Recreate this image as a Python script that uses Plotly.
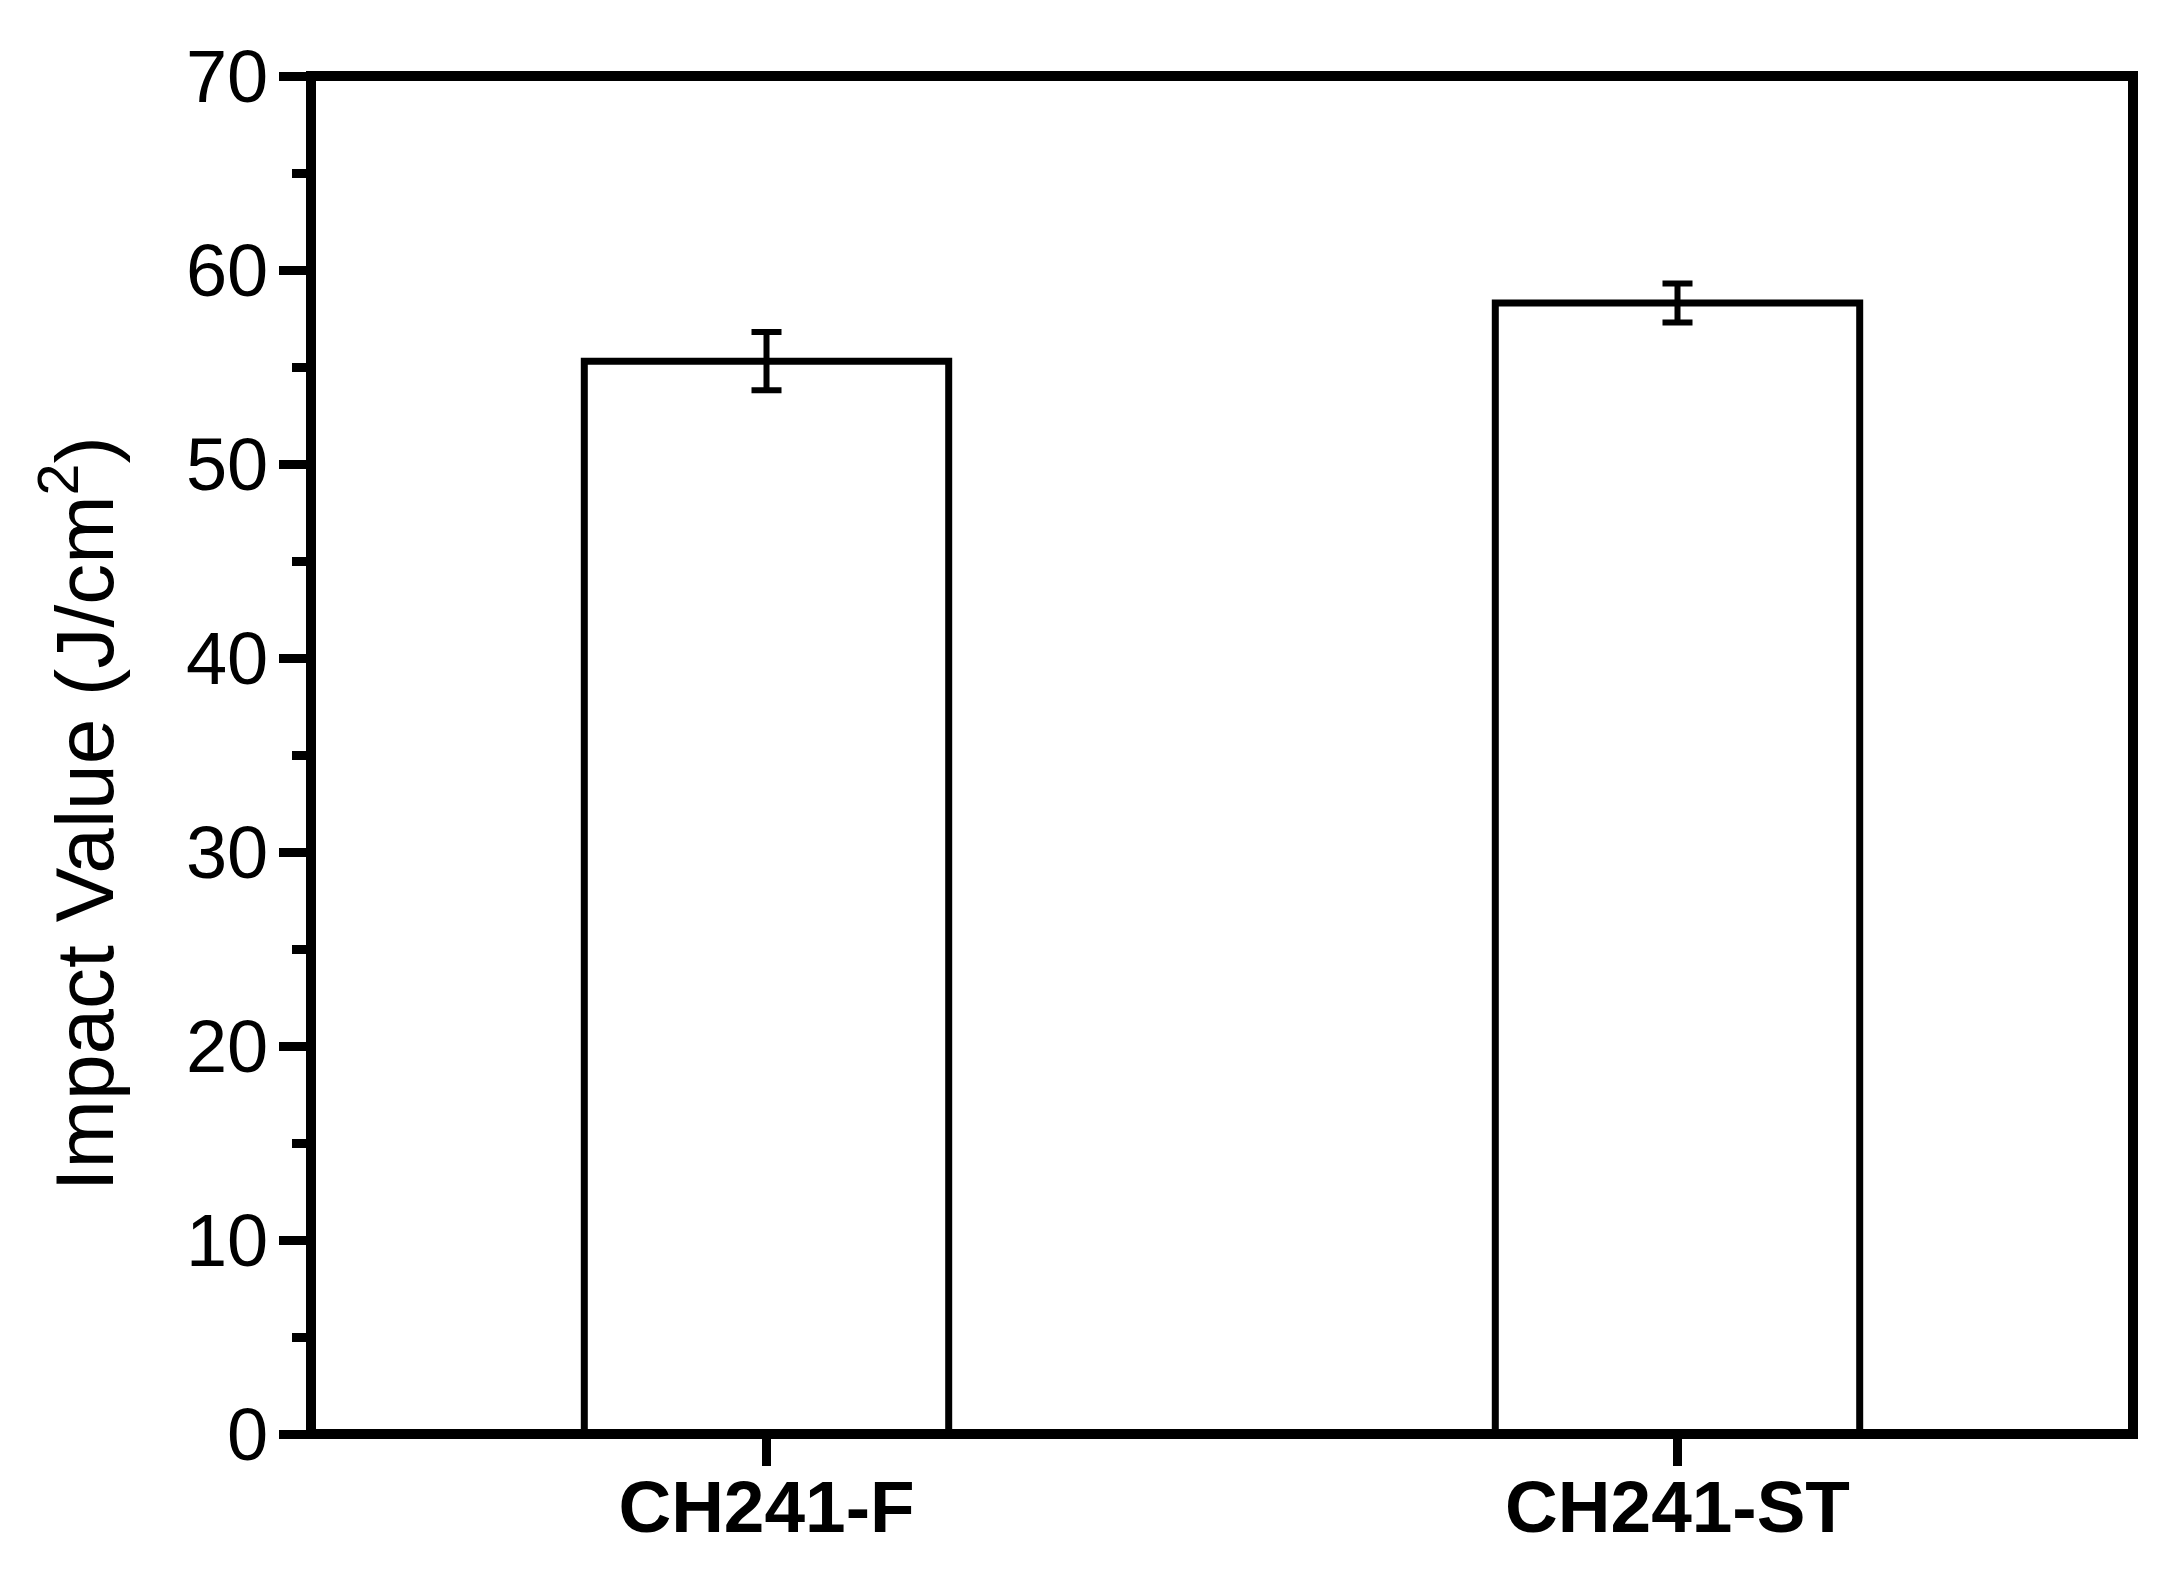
import plotly.graph_objects as go

# Data
samples = ["CH241-F", "CH241-ST"]
impact_values = [55.3, 58.3]
impact_errors = [1.5, 1.0]

FONT = "Arial, Liberation Sans, sans-serif"

fig = go.Figure()
fig.add_trace(
    go.Bar(
        x=samples,
        y=impact_values,
        width=0.4,
        marker=dict(color="white", line=dict(color="black", width=7)),
        error_y=dict(type="data", array=impact_errors, visible=True,
                     color="black", thickness=6, width=15),
        showlegend=False,
    )
)

# page body adds an 8px offset, so the figure is trimmed by that much
fig.update_layout(
    width=2169,
    height=1569,
    plot_bgcolor="white",
    paper_bgcolor="white",
    margin=dict(l=303, r=44, t=68, b=143),
    font=dict(family=FONT, color="black"),
)

# frame drawn centred on the plot edges, so 0 and 70 sit on the lines
fig.add_shape(
    type="rect", xref="paper", yref="paper", x0=0, x1=1, y0=0, y1=1,
    line=dict(color="black", width=10), layer="above",
)

fig.update_xaxes(
    range=[-0.5, 1.5],
    showline=False,
    ticks="outside", ticklen=31, tickwidth=9, tickcolor="black",
    tickfont=dict(family=FONT, size=73, color="black", weight="bold"),
    ticklabelstandoff=-22,
    showgrid=False, zeroline=False,
)

fig.update_yaxes(
    range=[0, 70],
    tickvals=[0, 10, 20, 30, 40, 50, 60, 70],
    showline=False,
    ticks="outside", ticklen=31, tickwidth=9, tickcolor="black",
    tickfont=dict(family=FONT, size=74, color="black"),
    ticklabelstandoff=-4,
    minor=dict(tickvals=[5, 15, 25, 35, 45, 55, 65], ticks="outside", ticklen=18,
               tickwidth=9, tickcolor="black", showgrid=False),
    showgrid=False, zeroline=False,
)

# y title as an annotation so it can sit where the reference puts it
fig.add_annotation(
    text="Impact Value (J/cm<sup>2</sup>)",
    textangle=-90,
    xref="paper", yref="paper",
    x=-0.128, y=0.457,
    xanchor="center", yanchor="middle",
    showarrow=False,
    font=dict(family=FONT, size=82, color="black"),
)

fig.write_html("out.html")
